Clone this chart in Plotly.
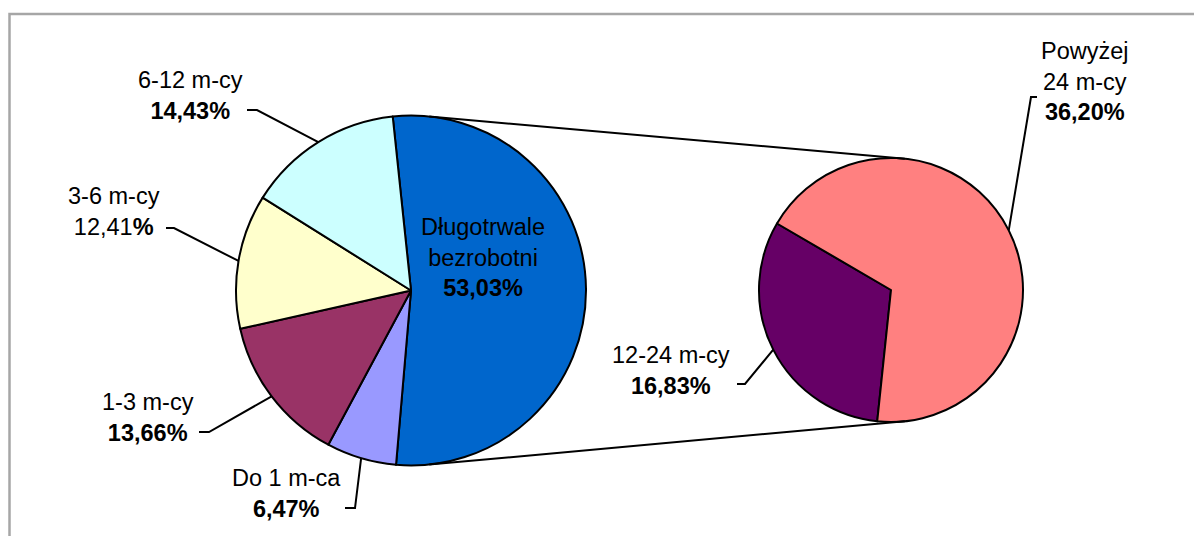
import math
import plotly.graph_objects as go

W, H = 1194, 536

# dane - wykres glowny
glowne_etykiety = ["Długotrwale bezrobotni", "Do 1 m-ca", "1-3 m-cy", "3-6 m-cy", "6-12 m-cy"]
glowne_wartosci = [53.03, 6.47, 13.66, 12.41, 14.43]
glowne_kolory = ["#0066CC", "#9999FF", "#993366", "#FFFFCC", "#CCFFFF"]

# dane - rozbicie dlugotrwale bezrobotnych
dlugie_etykiety = ["12-24 m-cy", "Powyżej 24 m-cy"]
dlugie_wartosci = [16.83, 36.20]
dlugie_kolory = ["#660066", "#FF8080"]

FONT = "Liberation Sans, Arial, sans-serif"
FS = 23.5


def px(x):
    return x / W


def py(y):
    return 1 - y / H


def proc(v):
    return f"{v:.2f}".replace(".", ",")


# geometria kol (piksele)
C1, R1, ROT1 = (411, 290.5), 175, -6
C2, R2, ROT2 = (891, 290), 132, 186


def punkt(c, r, kat):
    a = math.radians(kat)
    return c[0] + r * math.sin(a), c[1] - r * math.cos(a)


def srodki(wartosci, rot):
    suma = sum(wartosci)
    out, kat = [], rot
    for v in wartosci:
        d = v / suma * 360
        out.append(kat + d / 2)
        kat += d
    return out


fig = go.Figure()

fig.add_trace(go.Pie(
    labels=glowne_etykiety, values=glowne_wartosci, sort=False,
    direction="clockwise", rotation=ROT1,
    marker=dict(colors=glowne_kolory, line=dict(color="black", width=2)),
    textinfo="none", hoverinfo="label+percent",
    domain=dict(x=[px(C1[0] - R1), px(C1[0] + R1)], y=[py(C1[1] + R1), py(C1[1] - R1)]),
))

fig.add_trace(go.Pie(
    labels=dlugie_etykiety, values=dlugie_wartosci, sort=False,
    direction="clockwise", rotation=ROT2 - 360,
    marker=dict(colors=dlugie_kolory, line=dict(color="black", width=2)),
    textinfo="none", hoverinfo="label+value",
    domain=dict(x=[px(C2[0] - R2), px(C2[0] + R2)], y=[py(C2[1] + R2), py(C2[1] - R2)]),
))

shapes = []


def linia(punkty):
    d = "M " + " L ".join(f"{px(x)},{py(y)}" for x, y in punkty)
    shapes.append(dict(type="path", path=d, xref="paper", yref="paper",
                       line=dict(color="black", width=2)))


# linie laczace oba kola
for k in (6, 174):
    linia([punkt(C1, R1, k), punkt(C2, R2, k)])

# etykiety i linie odniesienia
m1 = srodki(glowne_wartosci, ROT1)
m2 = srodki(dlugie_wartosci, ROT2)

teksty = [
    (f"{glowne_etykiety[4]}<br><b>{proc(glowne_wartosci[4])}%</b>", 190, 95, (247, 257, 110), (C1, R1, m1[4])),
    (f"{glowne_etykiety[3]}<br>{proc(glowne_wartosci[3])}<b>%</b>", 114, 212, (166, 174, 228), (C1, R1, m1[3])),
    (f"{glowne_etykiety[2]}<br><b>{proc(glowne_wartosci[2])}%</b>", 148, 417, (199, 209, 432), (C1, R1, m1[2])),
    (f"{glowne_etykiety[1]}<br><b>{proc(glowne_wartosci[1])}%</b>", 286, 493, (345, 355, 508), (C1, R1, m1[1])),
    (f"{dlugie_etykiety[0]}<br><b>{proc(dlugie_wartosci[0])}%</b>", 671, 370, (737, 745, 384), (C2, R2, m2[0])),
    ("Powyżej<br>24 m-cy<br><b>" + proc(dlugie_wartosci[1]) + "%</b>", 1085, 81, (1037, 1031, 97), (C2, R2, m2[1])),
]

annotations = []
for txt, x, y, (t0, t1, ty), (c, r, k) in teksty:
    annotations.append(dict(text=txt, x=px(x), y=py(y), xref="paper", yref="paper",
                            xanchor="center", yanchor="middle", showarrow=False,
                            font=dict(size=FS, color="black", family=FONT)))
    linia([(t0, ty), (t1, ty), punkt(c, r, k)])

annotations.append(dict(
    text=f"Długotrwale<br>bezrobotni<br><b>{proc(glowne_wartosci[0])}%</b>",
    x=px(483), y=py(257), xref="paper", yref="paper", xanchor="center", yanchor="middle",
    showarrow=False, font=dict(size=FS, color="black", family=FONT)))

# ramka
shapes.append(dict(type="rect", xref="paper", yref="paper",
                   x0=px(9.5), y0=py(14), x1=px(1230), y1=py(560),
                   line=dict(color="#A6A6A6", width=2.5), layer="below"))

fig.update_layout(
    width=W, height=H,
    margin=dict(l=0, r=0, t=0, b=0),
    paper_bgcolor="white", plot_bgcolor="white",
    showlegend=False,
    shapes=shapes, annotations=annotations,
    font=dict(family=FONT, color="black"),
)

fig.write_html("out.html", config={"displayModeBar": False},
               post_script="document.body.style.margin='0';")
